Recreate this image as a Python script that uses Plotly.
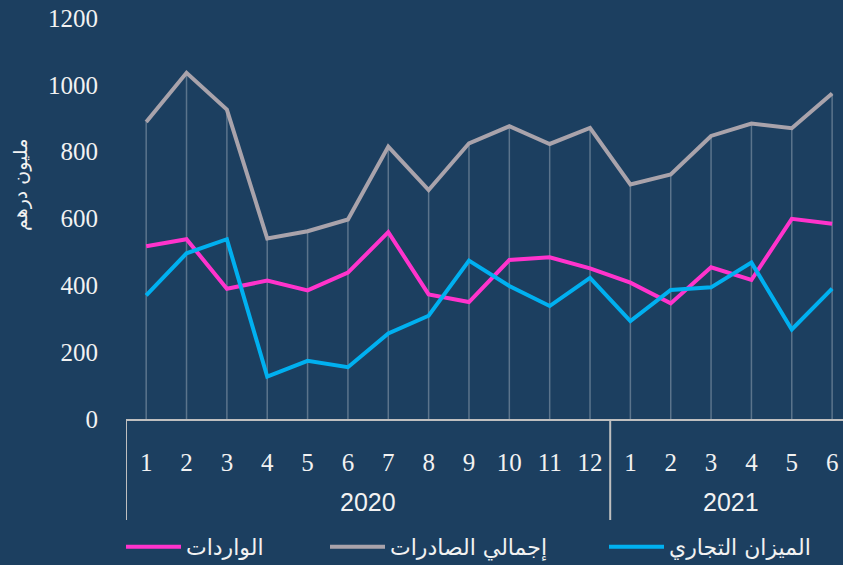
import plotly.graph_objects as go

# ---- data ----
years = ["2020", "2021"]
months_2020 = [1, 2, 3, 4, 5, 6, 7, 8, 9, 10, 11, 12]
months_2021 = [1, 2, 3, 4, 5, 6]
month_labels = [str(m) for m in months_2020 + months_2021]

imports = [517, 538, 390, 414, 385, 438, 559, 373, 350, 476, 484, 451,
           408, 346, 454, 416, 599, 584]
exports = [889, 1036, 926, 540, 562, 597, 815, 685, 825, 876, 823, 871,
           702, 732, 847, 884, 870, 974]
balance = [370, 496, 538, 127, 174, 155, 256, 309, 474, 398, 338, 422,
           293, 386, 394, 468, 268, 390]

names = {"imports": "الواردات", "exports": "إجمالي الصادرات", "balance": "الميزان التجاري"}
y_title = "مليون درهم"
y_ticks = [0, 200, 400, 600, 800, 1000, 1200]

BG = "#1C3F60"
PINK = "#FF33CC"
GREY = "#A9A3AB"
BLUE = "#00B0F0"
TXT = "#F2F2F2"

xs = list(range(len(month_labels)))

fig = go.Figure()

# drop lines from axis to the highest series value
dx, dy = [], []
for i in xs:
    top = max(imports[i], exports[i], balance[i])
    dx += [i, i, None]
    dy += [0, top, None]
fig.add_trace(go.Scatter(x=dx, y=dy, mode="lines",
                         line=dict(color="rgba(255,255,255,0.28)", width=1.5),
                         showlegend=False, hoverinfo="skip"))

fig.add_trace(go.Scatter(x=xs, y=imports, mode="lines", name=names["imports"],
                         line=dict(color=PINK, width=4), legend="legend"))
fig.add_trace(go.Scatter(x=xs, y=exports, mode="lines", name=names["exports"],
                         line=dict(color=GREY, width=4), legend="legend2"))
fig.add_trace(go.Scatter(x=xs, y=balance, mode="lines", name=names["balance"],
                         line=dict(color=BLUE, width=4), legend="legend3"))

W, H = 843, 565
ml, mr, mt, mb = 126, 0, 18, 146
plot_h = H - mt - mb
plot_w = W - ml - mr

def py(pix):
    return (H - mb - pix) / plot_h

def px(pix):
    return (pix - ml) / plot_w

# year group labels
n20 = len(months_2020)
n21 = len(months_2021)
centers = [(n20 - 1) / 2, n20 + (n21 - 1) / 2]
for yr, cx in zip(years, centers):
    fig.add_annotation(x=cx, y=py(502), xref="x", yref="paper", text=yr,
                       showarrow=False, yanchor="middle",
                       font=dict(family="Liberation Sans", size=25, color=TXT))

# group dividers
for xd in [-0.5, n20 - 0.5, n20 + n21 - 0.5]:
    fig.add_shape(type="line", xref="x", yref="paper", x0=xd, x1=xd,
                  y0=0, y1=py(520), line=dict(color="#BFBFBF", width=2))

# y-axis title
fig.add_annotation(x=px(20), y=py(185), xref="paper", yref="paper",
                   text=y_title, showarrow=False, textangle=-90,
                   xanchor="center", yanchor="middle",
                   font=dict(family="DejaVu Sans", size=19, color=TXT))

leg_common = dict(orientation="h", xanchor="left", y=py(547), yanchor="middle",
                  itemwidth=55, bgcolor="rgba(0,0,0,0)",
                  font=dict(family="DejaVu Sans", size=22, color=TXT))

fig.update_layout(
    width=W, height=H,
    margin=dict(l=ml, r=mr, t=mt, b=mb, autoexpand=False),
    paper_bgcolor=BG, plot_bgcolor=BG,
    showlegend=True,
    legend=dict(x=px(121), **leg_common),
    legend2=dict(x=px(325), **leg_common),
    legend3=dict(x=px(604), **leg_common),
    xaxis=dict(range=[-0.5, -0.5 + plot_w / 40.35],
               tickvals=xs, ticktext=month_labels,
               ticks="outside", ticklen=20, tickcolor="rgba(0,0,0,0)",
               tickfont=dict(family="Liberation Serif", size=25, color=TXT),
               showgrid=False, zeroline=False,
               showline=True, linecolor="#BFBFBF", linewidth=2),
    yaxis=dict(range=[0, 1200], tickvals=y_ticks,
               ticks="outside", ticklen=22, tickcolor="rgba(0,0,0,0)",
               tickfont=dict(family="Liberation Serif", size=25, color=TXT),
               showgrid=False, zeroline=False, showline=False),
)

fig.write_html("out.html", config={"displayModeBar": False},
               post_script="document.body.style.margin='0';document.body.style.overflow='hidden';")
